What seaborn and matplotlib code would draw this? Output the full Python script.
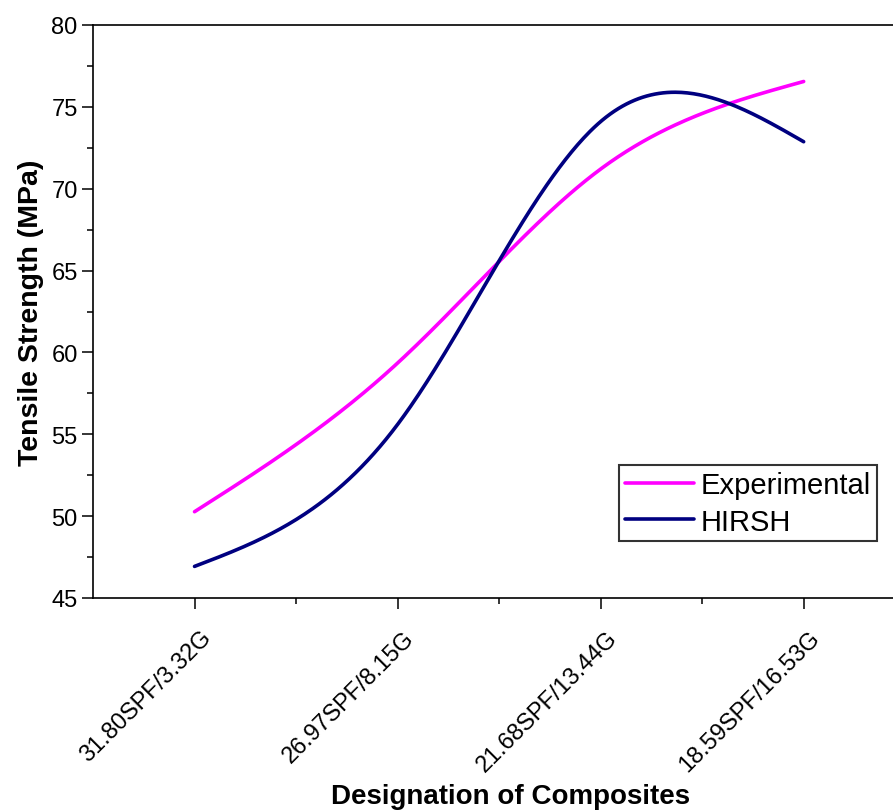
import numpy as np
import pandas as pd
import seaborn as sns
import matplotlib.pyplot as plt
import matplotlib.transforms as mtransforms
from matplotlib.ticker import MultipleLocator, FixedLocator

# Data
composites = ['31.80SPF/3.32G', '26.97SPF/8.15G', '21.68SPF/13.44G', '18.59SPF/16.53G']
experimental = [50.27, 59.35, 71.2, 76.55]
hirsh = [46.93, 55.6, 74.1, 72.87]

series_names = ['Experimental', 'HIRSH']
series_colors = ['#FF00FF', '#000080']


# Natural cubic spline through the points (Origin "spline" connection style)
def spline_curve(y, n=300):
    y = np.asarray(y, dtype=float)
    k = len(y)
    A = np.zeros((k, k))
    b = np.zeros(k)
    A[0, 0] = 1
    A[-1, -1] = 1
    for i in range(1, k - 1):
        A[i, i - 1] = 1
        A[i, i] = 4
        A[i, i + 1] = 1
        b[i] = 6 * (y[i - 1] - 2 * y[i] + y[i + 1])
    M = np.linalg.solve(A, b)
    xs = np.linspace(0, k - 1, n)
    idx = np.clip(np.floor(xs).astype(int), 0, k - 2)
    t = xs - idx
    ys = (y[idx] * (1 - t) + y[idx + 1] * t
          + M[idx] / 6 * ((1 - t) ** 3 - (1 - t))
          + M[idx + 1] / 6 * (t ** 3 - t))
    return xs, ys


frames = []
for name, vals in zip(series_names, [experimental, hirsh]):
    xs, ys = spline_curve(vals)
    frames.append(pd.DataFrame({'pos': xs, 'value': ys, 'series': name}))
curve_df = pd.concat(frames, ignore_index=True)

sns.set_style('ticks')
plt.rcParams['font.family'] = ['Liberation Sans', 'DejaVu Sans']
plt.rcParams['text.color'] = 'black'
plt.rcParams['axes.labelcolor'] = 'black'

fig = plt.figure(figsize=(8.93, 8.12), dpi=100)
ax = fig.add_axes([93 / 893, 1 - 599 / 812, 1 - 93 / 893, (599 - 26) / 812])

sns.lineplot(data=curve_df, x='pos', y='value', hue='series',
             palette=dict(zip(series_names, series_colors)),
             linewidth=2.6, sort=False, ax=ax)

ax.set_xlim(-0.5, 3.44)
ax.set_ylim(45, 80)

# axes styling
for side in ['left', 'bottom', 'top', 'right']:
    ax.spines[side].set_linewidth(1.2)
    ax.spines[side].set_color('black')
ax.spines['right'].set_visible(False)

ax.yaxis.set_major_locator(MultipleLocator(5))
ax.yaxis.set_minor_locator(MultipleLocator(2.5))
ax.xaxis.set_major_locator(FixedLocator(range(len(composites))))
ax.xaxis.set_minor_locator(FixedLocator([0.5, 1.5, 2.5]))
ax.tick_params(axis='both', which='major', direction='out', length=8, width=1.1,
               color='black', labelsize=17, labelcolor='black')
ax.tick_params(axis='both', which='minor', direction='out', length=4, width=1.1,
               color='black')
ax.tick_params(axis='y', which='major', pad=3)
ax.tick_params(axis='x', which='major', pad=18)

ax.set_xticks(range(len(composites)))
ax.set_xticklabels(composites, rotation=45, ha='right', va='center',
                   rotation_mode='anchor', fontsize=17)
offset = mtransforms.ScaledTranslation(13 / 100, 0, fig.dpi_scale_trans)
for lbl in ax.get_xticklabels():
    lbl.set_transform(lbl.get_transform() + offset)

ax.set_xlabel('Designation of Composites', fontsize=20, fontweight='bold')
ax.xaxis.set_label_coords(0.5225, -0.322)
ax.set_ylabel('Tensile Strength (MPa)', fontsize=20.5, fontweight='bold', labelpad=5)

handles, labels = ax.get_legend_handles_labels()
leg = ax.legend(handles, labels, loc='upper right', bbox_to_anchor=(0.98, 0.232),
                borderaxespad=0, fontsize=21, frameon=True, fancybox=False,
                handlelength=2.35, handletextpad=0.25, labelspacing=0.3,
                borderpad=0.2, edgecolor='black')
leg.get_frame().set_linewidth(1.5)
for line in leg.get_lines():
    line.set_linewidth(2.6)

fig.savefig('out.png', dpi=100)
